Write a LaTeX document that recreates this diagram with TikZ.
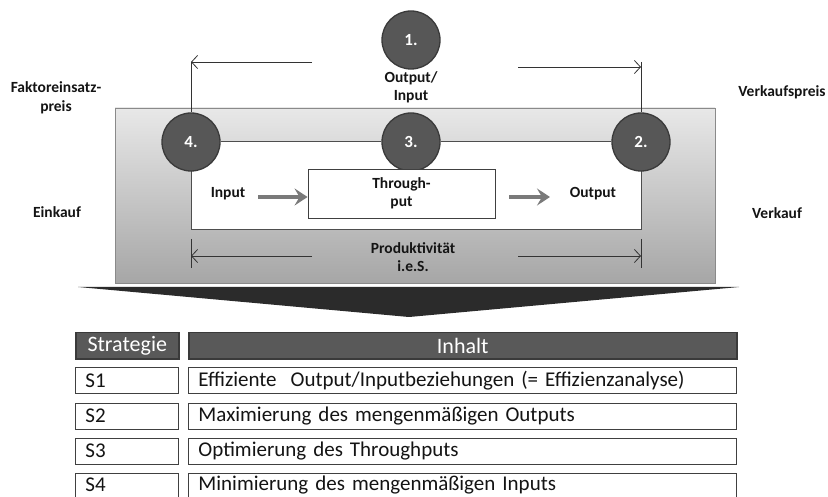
\documentclass[tikz,border=0pt]{standalone}
\usepackage{fontspec}
\setmainfont{Carlito}
\usetikzlibrary{arrows.meta}

\definecolor{circfill}{HTML}{575757}
\definecolor{circedge}{HTML}{3A3A3A}
\definecolor{boxtop}{HTML}{E8E8E8}
\definecolor{boxbottom}{HTML}{A6A6A6}
\definecolor{boxedge}{HTML}{8A8A8A}
\definecolor{flowgray}{HTML}{7A7A7A}
\definecolor{wedge}{HTML}{2B2B2B}
\definecolor{headfill}{HTML}{595959}
\definecolor{headedge}{HTML}{3A3A3A}
\definecolor{rowedge}{HTML}{404040}

\tikzset{
  lbl/.style={font=\fontsize{15.5}{18}\selectfont\bfseries, align=center, inner sep=0pt, text=black!92},
  numcircle/.style={circle, minimum size=58pt, inner sep=0pt, fill=circfill, draw=circedge,
    line width=1.3pt, text=white, font=\fontsize{17}{19}\selectfont\bfseries},
  thinline/.style={draw=black!80, line width=0.8pt},
  barb/.style={-{Straight Barb[length=6pt,width=13pt]}},
  flowarrow/.style={draw=flowgray, line width=4pt, -{Stealth[length=13pt,width=17pt,inset=5pt]}},
  headcell/.style={rectangle, fill=headfill, draw=headedge, line width=1.5pt, minimum height=26pt,
    text=white, font=\fontsize{22}{24}\selectfont, inner sep=0pt, anchor=north west},
  rowcell/.style={rectangle, fill=white, draw=rowedge, line width=0.9pt, minimum height=26pt,
    font=\fontsize{21}{23}\selectfont, text=black!92, inner xsep=10pt, inner ysep=0pt,
    anchor=north west, text width=#1, align=left},
}

\begin{document}
\begin{tikzpicture}[x=1pt,y=-1pt]
\useasboundingbox (0,0) rectangle (828,497);

% grey production frame with gradient
\shade[top color=boxtop, bottom color=boxbottom] (115,108) rectangle (715,283);
\draw[boxedge, line width=0.9pt] (115,108) rectangle (715,283);

% white inner area
\fill[white] (191,142) rectangle (641,230);
\draw[circedge!90, line width=1pt] (191,142) -- (191,230) -- (641,230) -- (641,142);

% numbered stations
\node[numcircle] (c1) at (411,40) {1.};
\node[numcircle] (c4) at (191,142) {4.};
\node[numcircle] (c3) at (411,142) {3.};
\node[numcircle] (c2) at (641,142) {2.};
\draw[circedge!90, line width=1pt] (c4) -- (c3) (c3) -- (c2);

% Output/Input brackets above the frame
\coordinate (tlA) at (312,62);
\coordinate (tlB) at (191,62);
\coordinate (trA) at (518,67);
\coordinate (trB) at (641,67);
\coordinate (trT) at (641,62);
\draw[thinline, barb] (tlA) -- (tlB);
\draw[thinline] (tlB) -- (c4.north);
\draw[thinline, barb] (trA) -- (trB);
\draw[thinline] (trT) -- (c2.north);

\node[lbl] (oi) at (411,87) {Output/\\Input};
\node[lbl, font=\fontsize{15.5}{18.5}\selectfont\bfseries] (fp) at (56,98) {Faktoreinsatz-\\preis};
\node[lbl] (vp) at (782,92) {Verkaufspreis};
\node[lbl] (ek) at (57,212) {Einkauf};
\node[lbl] (vk) at (777,213) {Verkauf};

% transformation chain
\node[lbl] (in) at (228,194) {Input};
\node[lbl, draw=black!75, line width=0.9pt, fill=white, minimum width=187pt, minimum height=49pt]
  (tp) at (401.5,193.5) {Through-\\put};
\node[lbl] (out) at (593,194) {Output};
\draw[flowarrow] (in.east) ++(13,3) -- (tp.west |- 0,197);
\draw[flowarrow] (tp.east |- 0,197) ++(14,0) -- (550,197);

% productivity span
\coordinate (pl1) at (191,239);
\coordinate (pl2) at (191,268);
\coordinate (pr1) at (641,239);
\coordinate (pr2) at (641,268);
\coordinate (plA) at (312,256);
\coordinate (plB) at (191,256);
\coordinate (prA) at (518,256);
\coordinate (prB) at (641,256);
\draw[thinline] (pl1) -- (pl2) (pr1) -- (pr2);
\draw[thinline, barb] (plA) -- (plB);
\draw[thinline, barb] (prA) -- (prB);
\node[lbl] (prod) at (413,257) {Produktivität\\i.e.S.};

% funnel wedge
\fill[wedge] (78,287) -- (739,287) -- (409,317) -- cycle;

% strategy table
\node[headcell, minimum width=103pt] (hS) at (75,332) {Strategie};
\node[headcell, minimum width=548pt] (hI) at (188,332) {Inhalt};

\node[rowcell=83pt] (s1) at (75,367) {S1};
\node[rowcell=528pt] (t1) at (188,367) {Effiziente\ \ Output/Inputbeziehungen (= Effizienzanalyse)};
\node[rowcell=83pt] (s2) at (75,402.5) {S2};
\node[rowcell=528pt] (t2) at (188,402.5) {Maximierung des mengenmäßigen Outputs};
\node[rowcell=83pt] (s3) at (75,437.5) {S3};
\node[rowcell=528pt] (t3) at (188,437.5) {Optimierung des Throughputs};
\node[rowcell=83pt, minimum height=24pt] (s4) at (75,472.5) {S4};
\node[rowcell=528pt, minimum height=24pt] (t4) at (188,472.5) {Minimierung des mengenmäßigen Inputs};
\end{tikzpicture}
\end{document}
